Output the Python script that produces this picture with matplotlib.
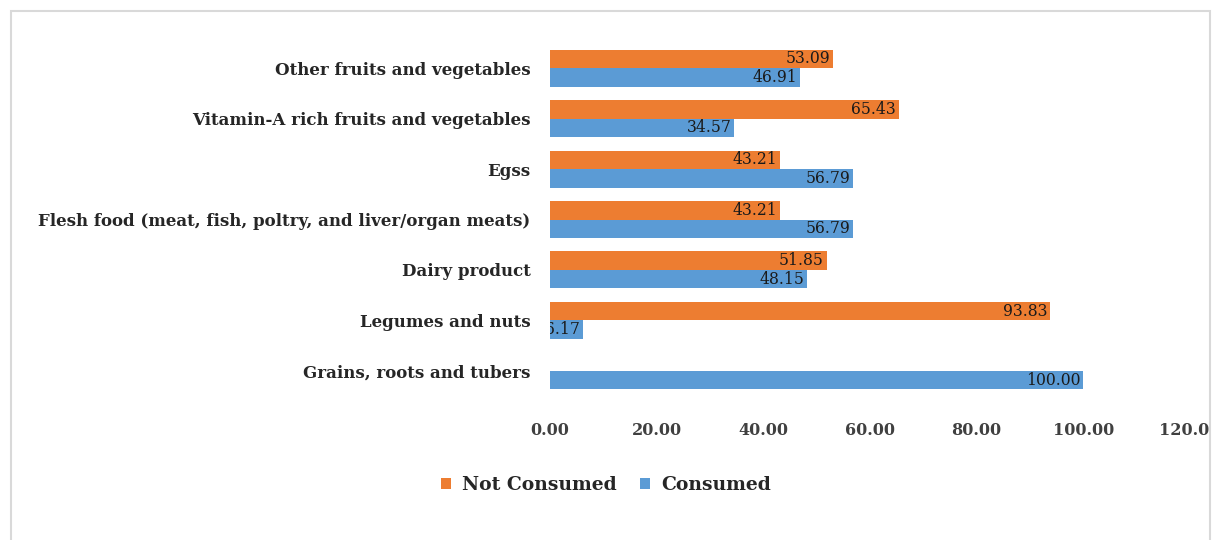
import matplotlib
matplotlib.use("Agg")
import matplotlib.pyplot as plt
from matplotlib.patches import Rectangle
from matplotlib.transforms import Bbox, TransformedBbox
import numpy as np

categories = [
    "Grains, roots and tubers",
    "Legumes and nuts",
    "Dairy product",
    "Flesh food (meat, fish, poltry, and liver/organ meats)",
    "Egss",
    "Vitamin-A rich fruits and vegetables",
    "Other fruits and vegetables",
]
not_consumed = [0.00, 93.83, 51.85, 43.21, 43.21, 65.43, 53.09]
consumed = [100.00, 6.17, 48.15, 56.79, 56.79, 34.57, 46.91]
xticks = [0, 20, 40, 60, 80, 100, 120]

ORANGE = "#ED7D31"
BLUE = "#5B9BD5"
TEXT = "#262626"
SERIF = ["DejaVu Serif"]

W, H = 1218, 540
fig = plt.figure(figsize=(W / 100, H / 100), dpi=100)
fig.patch.set_facecolor("white")

ax = fig.add_axes([550 / W, (H - 396) / H, (1190 - 550) / W, (396 - 43) / H])

y = np.arange(len(categories))
h = 0.366
b1 = ax.barh(y + h / 2, not_consumed, height=h, color=ORANGE, linewidth=0,
             label="Not Consumed")
b2 = ax.barh(y - h / 2, consumed, height=h, color=BLUE, linewidth=0,
             label="Consumed")

for bars, vals in ((b1, not_consumed), (b2, consumed)):
    for rect, v in zip(bars, vals):
        if v <= 0:
            continue
        ax.annotate(f"{v:.2f}", xy=(v, rect.get_y() + rect.get_height() / 2),
                    xytext=(-2, 0), textcoords="offset points",
                    ha="right", va="center", fontsize=12.5, color="#1a1a1a",
                    family=SERIF, fontstretch="condensed",
                    clip_on=True, annotation_clip=False)

ax.set_xlim(0, 120)
ax.set_ylim(-0.5, len(categories) - 0.5)
ax.set_xticks(xticks)
ax.set_xticklabels([f"{t:.2f}" for t in xticks], family=SERIF, fontweight="bold",
                   fontsize=11.5, color="#404040")
ax.set_yticks(y)
ax.set_yticklabels(categories, family=SERIF, fontweight="bold", fontsize=12, color=TEXT)
ax.tick_params(axis="both", length=0)
ax.tick_params(axis="x", pad=19)
ax.tick_params(axis="y", pad=14)
for s in ax.spines.values():
    s.set_visible(False)

handles = [b1, b2]
leg = fig.legend(handles, ["Not Consumed", "Consumed"], loc="center",
                 bbox_to_anchor=(606 / W, 1 - 485 / H), ncol=2, frameon=False,
                 prop={"family": SERIF, "weight": "bold", "size": 13.5},
                 handlelength=0.55, handleheight=0.55, handletextpad=0.6,
                 columnspacing=1.2)
for t in leg.get_texts():
    t.set_color(TEXT)

border = Rectangle((11 / W, -0.02), (1210 - 11) / W, 1 - 11 / H + 0.02,
                   transform=fig.transFigure, fill=False, edgecolor="#d9d9d9",
                   linewidth=1.5)
fig.add_artist(border)

clipbox = TransformedBbox(Bbox([[0, 0], [1209 / W, 1]]), fig.transFigure)
for t in ax.get_xticklabels():
    t.set_clip_on(True)
    t.set_clip_box(clipbox)

fig.savefig("out.png", dpi=100, facecolor="white")
